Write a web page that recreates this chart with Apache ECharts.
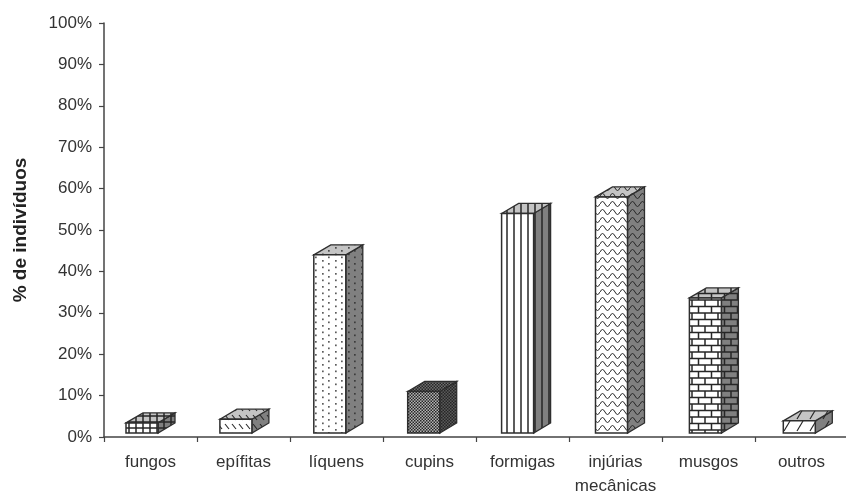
<!DOCTYPE html>
<html>
<head>
<meta charset="utf-8">
<style>html,body{margin:0;padding:0;background:#fff}#chart{width:846px;height:493px;filter:blur(0.4px)}</style>
<script src="https://cdn.jsdelivr.net/npm/echarts@6/dist/echarts.min.js"></script>
</head>
<body>
<div id="chart"></div>
<script>
const categories = ["fungos", "epífitas", "líquens", "cupins", "formigas", "injúrias\nmecânicas", "musgos", "outros"];
const values = [3.4, 4.3, 44, 11, 54, 58, 33.6, 3.9];
const yTicks = [0, 10, 20, 30, 40, 50, 60, 70, 80, 90, 100];
const patterns = ["grid", "diag", "dots", "dense", "vert", "wave", "brick", "wide"];

const INK = "#262626";

// small tile painter, one per bar texture
function tile(kind, bg) {
  const sizes = { grid: [7, 6], diag: [7, 9], dots: [13, 13], dense: [3, 3], vert: [7, 4], wave: [10, 8], brick: [13, 13], wide: [13, 12] };
  const [w, h] = sizes[kind];
  const c = document.createElement("canvas");
  c.width = w;
  c.height = h;
  const g = c.getContext("2d");
  g.fillStyle = bg;
  g.fillRect(0, 0, w, h);
  g.strokeStyle = INK;
  g.fillStyle = INK;
  g.lineWidth = 1.5;
  const line = pts => {
    g.beginPath();
    pts.forEach((p, i) => (i ? g.lineTo(p[0], p[1]) : g.moveTo(p[0], p[1])));
    g.stroke();
  };
  if (kind === "grid") {
    line([[3, 0], [3, h]]);
    line([[0, 2], [w, 2]]);
  } else if (kind === "diag") {
    g.lineWidth = 1.1;
    line([[1, 1], [5, 6]]);
  } else if (kind === "wide") {
    g.lineWidth = 1.2;
    line([[10, 1], [4, 11]]);
  } else if (kind === "dots") {
    g.globalAlpha = 0.75;
    [[3, 3], [10, 0], [3, 9.5], [10, 6.5]].forEach(p => g.fillRect(p[0], p[1], 1.7, 1.7));
  } else if (kind === "dense") {
    g.fillRect(0, 0, 1.5, 1.5);
    g.fillRect(1.5, 1.5, 1.5, 1.5);
  } else if (kind === "vert") {
    line([[3, 0], [3, h]]);
  } else if (kind === "wave") {
    g.lineWidth = 1;
    g.beginPath();
    g.moveTo(0, 4);
    g.quadraticCurveTo(2.5, -1, 5, 4);
    g.quadraticCurveTo(7.5, 9, 10, 4);
    g.stroke();
  } else if (kind === "brick") {
    line([[0, 1], [w, 1]]);
    line([[0, 7.5], [w, 7.5]]);
    line([[3, 1], [3, 7.5]]);
    line([[9.5, 7.5], [9.5, h]]);
    line([[9.5, 0], [9.5, 1]]);
  }
  return { image: c, repeat: "repeat" };
}

const faces = patterns.map(k => ({
  front: tile(k, k === "dense" ? "#b4b4b4" : "#ffffff"),
  side: tile(k, k === "dense" ? "#5a5a5a" : "#808080"),
  top: tile(k, k === "dense" ? "#707070" : "#c4c4c4"),
}));

// Excel style 3D column: front face, side and top
function renderBox(params, api) {
  const i = api.value(0);
  const top = api.coord([i, api.value(1)]);
  const base = api.coord([i, 0]);
  const depthX = 17;
  const depthY = 10;
  const w = 32;
  // the scanned columns creep right of their band as the axis goes on
  const x0 = top[0] - (w + depthX) / 2 + i * 0.9;
  const x1 = x0 + w;
  const y0 = top[1];
  const y1 = base[1] - 4;
  const f = faces[i];
  const edge = { stroke: "#2e2e2e", lineWidth: 1.3 };
  return {
    type: "group",
    children: [
      {
        type: "polygon",
        shape: { points: [[x1, y0], [x1 + depthX, y0 - depthY], [x1 + depthX, y1 - depthY], [x1, y1]] },
        style: { fill: f.side, ...edge },
      },
      {
        type: "polygon",
        shape: { points: [[x0, y0], [x0 + depthX, y0 - depthY], [x1 + depthX, y0 - depthY], [x1, y0]] },
        style: { fill: f.top, ...edge },
      },
      {
        type: "rect",
        shape: { x: x0, y: y0, width: w, height: y1 - y0 },
        style: { fill: f.front, stroke: "#2e2e2e", lineWidth: 1.5 },
      },
    ],
  };
}

const chart = echarts.init(document.getElementById("chart"), null, { renderer: "canvas" });
chart.setOption({
  animation: false,
  backgroundColor: "#ffffff",
  textStyle: { fontFamily: "Liberation Sans" },
  grid: { left: 104, top: 23, width: 744, height: 414, outerBoundsMode: "none" },
  xAxis: {
    type: "category",
    data: categories,
    boundaryGap: true,
    axisLine: { lineStyle: { color: "#444", width: 1.5 } },
    axisTick: { show: true, length: 5, lineStyle: { color: "#444", width: 1.2 } },
    axisLabel: { color: "#333", fontSize: 17, margin: 13, lineHeight: 24, interval: 0 },
  },
  yAxis: {
    type: "value",
    min: 0,
    max: 100,
    interval: 10,
    name: "% de indivíduos",
    nameLocation: "middle",
    nameGap: 74,
    nameRotate: 90,
    nameTextStyle: { color: "#222", fontSize: 19, fontWeight: "bold" },
    axisLine: { show: true, lineStyle: { color: "#444", width: 1.5 } },
    axisTick: { show: true, length: 5, lineStyle: { color: "#444", width: 1.2 } },
    axisLabel: { color: "#333", fontSize: 17, margin: 12, formatter: v => (yTicks.includes(v) ? v + "%" : "") },
    splitLine: { show: false },
  },
  series: [
    {
      type: "custom",
      renderItem: renderBox,
      encode: { x: 0, y: 1 },
      clip: false,
      data: values.map((v, i) => [i, v]),
    },
  ],
});
</script>
</body>
</html>
